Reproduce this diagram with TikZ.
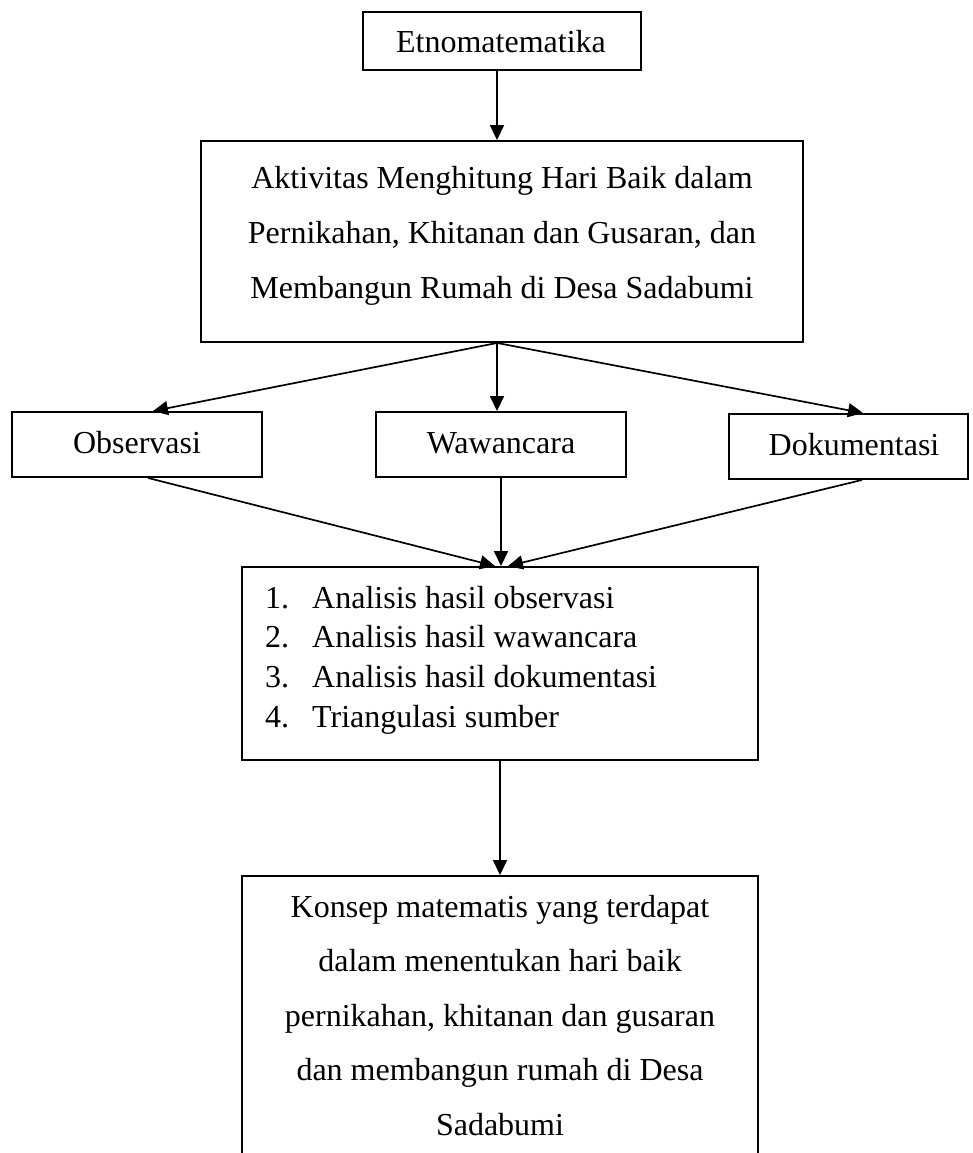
\documentclass[tikz,border=0pt]{standalone}
\usepackage{fontspec}
\setmainfont{Liberation Serif}
\usetikzlibrary{arrows.meta}
\begin{document}
\begin{tikzpicture}[x=1pt,y=-1pt,
  box/.style={draw,line width=1.9pt,inner sep=0pt,fill=none},
  txt/.style={inner sep=0pt,anchor=base,font=\fontsize{32}{38}\selectfont},
  txtl/.style={inner sep=0pt,anchor=base west,font=\fontsize{32}{38}\selectfont},
  arr/.style={line width=1.7pt,-{Triangle[length=15pt,width=14pt]}},
  ln/.style={line width=1.7pt}]
\useasboundingbox (0,0) rectangle (972,1153);
\clip (0,0) rectangle (972,1153);
% boxes
\node[box,minimum width=278pt,minimum height=58pt] (etno) at (502,41) {};
\node[box,minimum width=602pt,minimum height=201pt] (big) at (502,241.5) {};
\node[box,minimum width=250pt,minimum height=65pt] (obs) at (137,444.5) {};
\node[box,minimum width=250pt,minimum height=65pt] (waw) at (501,444.5) {};
\node[box,minimum width=239pt,minimum height=65pt] (dok) at (848.5,446.5) {};
\node[box,minimum width=516pt,minimum height=193pt] (list) at (500,663.5) {};
\node[box,minimum width=516pt,minimum height=294pt] (konsep) at (500,1023) {};
% texts
\node[txt] (t0) at (501,53) {Etnomatematika};
\node[txt] (t1) at (502,188) {Aktivitas Menghitung Hari Baik dalam};
\node[txt] (t2) at (502,243) {Pernikahan, Khitanan dan Gusaran, dan};
\node[txt] (t3) at (502,298) {Membangun Rumah di Desa Sadabumi};
\node[txt] (tobs) at (137,453) {Observasi};
\node[txt] (twaw) at (501,453) {Wawancara};
\node[txt] (tdok) at (854,455) {Dokumentasi};
\node[txtl] (n1) at (265,608) {1.};
\node[txtl] (l1) at (312,608) {Analisis hasil observasi};
\node[txtl] (n2) at (265,647) {2.};
\node[txtl] (l2) at (312,647) {Analisis hasil wawancara};
\node[txtl] (n3) at (265,687) {3.};
\node[txtl] (l3) at (312,687) {Analisis hasil dokumentasi};
\node[txtl] (n4) at (265,727) {4.};
\node[txtl] (l4) at (312,727) {Triangulasi sumber};
\node[txt] (k1) at (500,917) {Konsep matematis yang terdapat};
\node[txt] (k2) at (500,971.5) {dalam menentukan hari baik};
\node[txt] (k3) at (500,1026) {pernikahan, khitanan dan gusaran};
\node[txt] (k4) at (500,1080.5) {dan membangun rumah di Desa};
\node[txt] (k5) at (500,1135) {Sadabumi};
% connectors
\draw[arr] ([xshift=-5pt]etno.south) -- ([xshift=-5pt]big.north);
\draw[arr] ([xshift=-5pt]big.south) -- ([xshift=16pt]obs.north);
\draw[arr] ([xshift=-5pt]big.south) -- ([xshift=-4pt]waw.north);
\draw[arr] ([xshift=-5pt]big.south) -- ([xshift=14.5pt]dok.north);
\draw[arr] ([xshift=11pt]obs.south) -- ([xshift=-5pt]list.north);
\draw[arr] (waw.south) -- (waw.south |- list.north);
\draw[arr] ([xshift=13.5pt]dok.south) -- ([xshift=8pt]list.north);
\draw[arr] (list.south) -- (konsep.north);
\end{tikzpicture}
\end{document}
